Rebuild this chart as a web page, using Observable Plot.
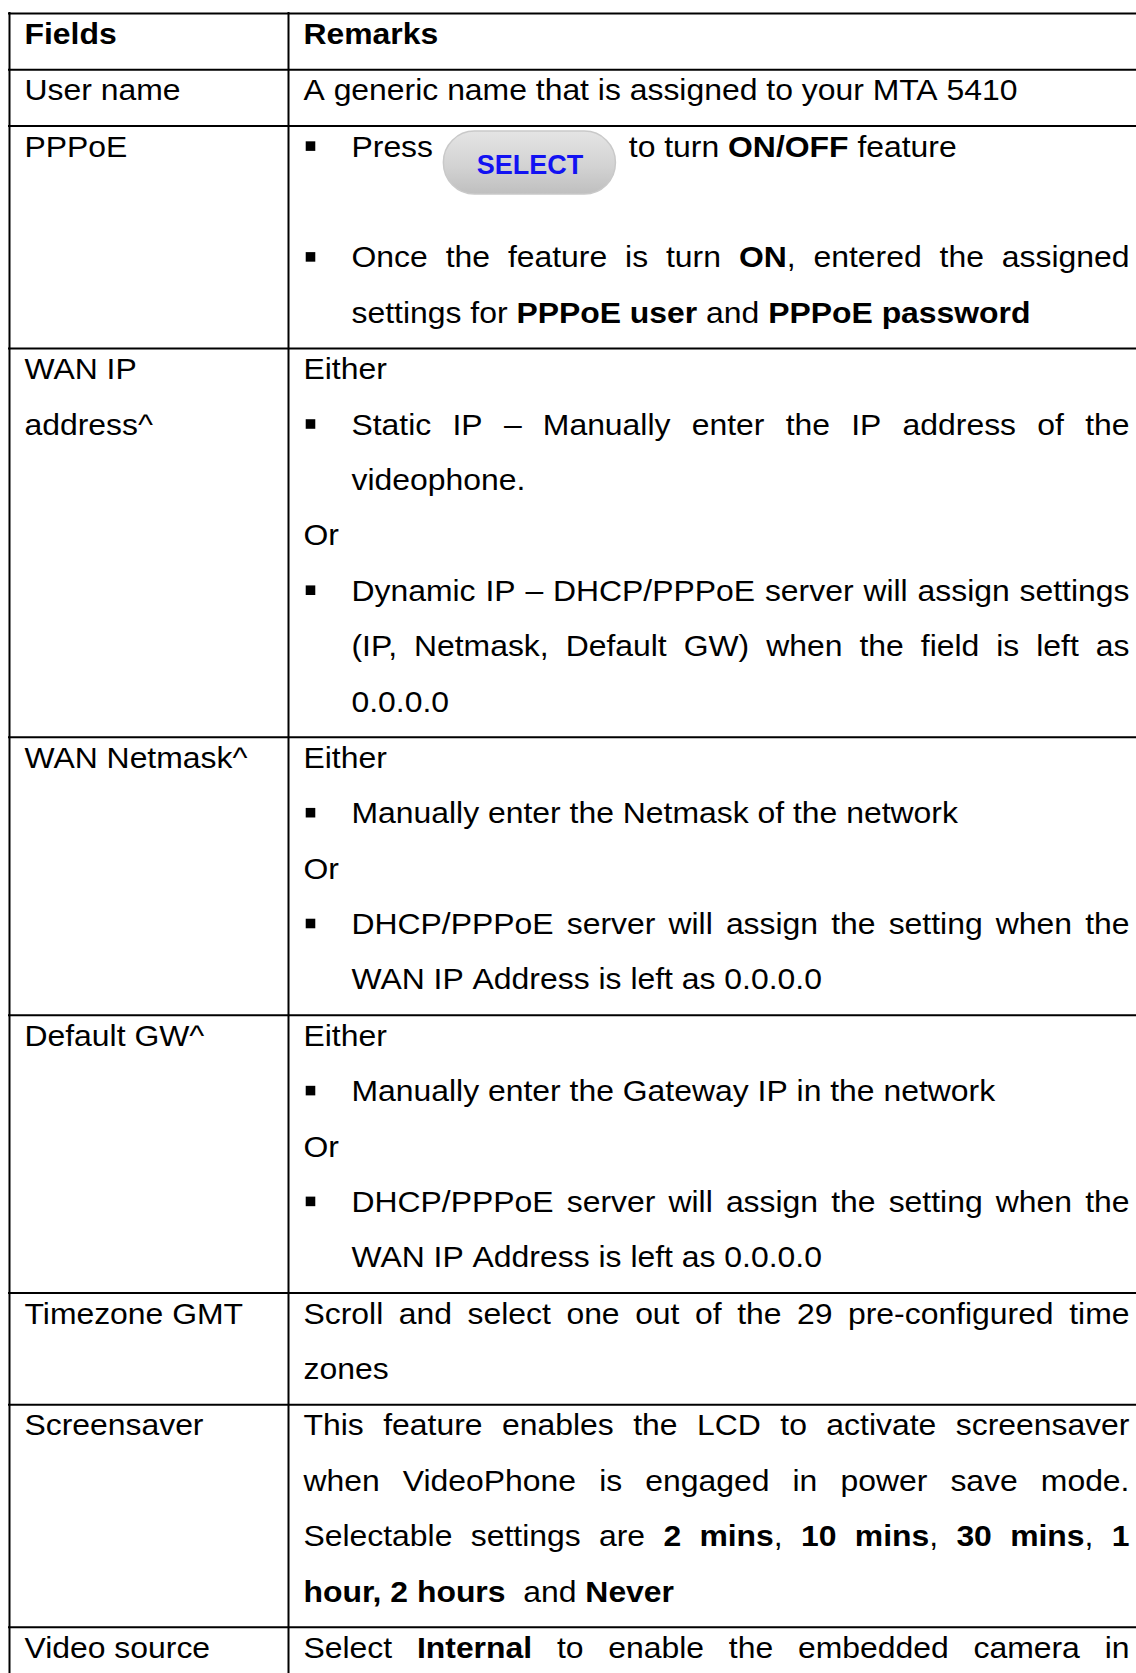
<!DOCTYPE html>
<html>
<head>
<meta charset="utf-8">
<script src="https://cdn.jsdelivr.net/npm/d3@7"></script>
<script src="https://cdn.jsdelivr.net/npm/@observablehq/plot@0.6"></script>
<style>
  html, body { margin: 0; padding: 0; background: #fff; }
  svg { display: block; }
</style>
</head>
<body>
<div id="chart"></div>
<script>
// ---------- content ----------
const fieldNames = [
  ["**Fields**"],
  ["User name"],
  ["PPPoE"],
  ["WAN IP", "address^"],
  ["WAN Netmask^"],
  ["Default GW^"],
  ["Timezone GMT"],
  ["Screensaver"],
  ["Video source"]
];
const remarksHeader = ["**Remarks**"];
const remarksUserName = ["A generic name that is assigned to your MTA 5410"];
const remarksPPPoE = [
  "- Press {SELECT} to turn **ON/OFF** feature",
  "",
  "- Once the feature is turn **ON**, entered the assigned ~",
  "  settings for **PPPoE user** and **PPPoE password**"
];
const remarksWanIp = [
  "Either",
  "- Static IP – Manually enter the IP address of the ~",
  "  videophone.",
  "Or",
  "- Dynamic IP – DHCP/PPPoE server will assign settings ~",
  "  (IP, Netmask, Default GW) when the field is left as ~",
  "  0.0.0.0"
];
const remarksNetmask = [
  "Either",
  "- Manually enter the Netmask of the network",
  "Or",
  "- DHCP/PPPoE server will assign the setting when the ~",
  "  WAN IP Address is left as 0.0.0.0"
];
const remarksGateway = [
  "Either",
  "- Manually enter the Gateway IP in the network",
  "Or",
  "- DHCP/PPPoE server will assign the setting when the ~",
  "  WAN IP Address is left as 0.0.0.0"
];
const remarksTimezone = [
  "Scroll and select one out of the 29 pre-configured time ~",
  "zones"
];
const remarksScreensaver = [
  "This feature enables the LCD to activate screensaver ~",
  "when VideoPhone is engaged in power save mode. ~",
  "Selectable settings are **2 mins**, **10 mins**, **30 mins**, **1** ~",
  "**hour, 2 hours**  and **Never**"
];
const remarksVideo = [
  "Select **Internal** to enable the embedded camera in ~"
];
const buttonLabels = ["SELECT"];

const remarks = [remarksHeader, remarksUserName, remarksPPPoE, remarksWanIp, remarksNetmask,
                 remarksGateway, remarksTimezone, remarksScreensaver, remarksVideo];

// ---------- layout ----------
const W = 1136, H = 1673;
const TOP = 13, LEFT = 9, DIV = 288, RIGHT = 1129;
const LINE = 55.4, ROWPAD = 0.9, BASE = 30.5;
const FS = 29, SX = 1.1;
const FONT = "Liberation Sans";
const TEXT_L = 24, TEXT_R = 303, BULLET_X = 310, BULLET_TEXT = 351;
const BTN_W = 172, BTN_PRE = 2, BTN_POST = 4, BTN_UP = 25, BTN_DOWN = 38;
const BTN_COLOR = "#1212f2";

const ctx = document.createElement("canvas").getContext("2d");
function widthOf(t, bold) {
  ctx.font = `${bold ? "bold " : ""}${FS}px "${FONT}"`;
  return ctx.measureText(t).width * SX;
}
const spaceW = widthOf(" ", false);

function tokenize(s) {
  const words = [];
  let cur = null, spaces = 0;
  s.split("**").forEach((p, i) => {
    const bold = i % 2 === 1;
    let buf = "";
    const flush = () => {
      if (buf) {
        if (!cur) { cur = {gap: spaces, pieces: []}; spaces = 0; }
        cur.pieces.push({t: buf, bold});
        buf = "";
      }
    };
    for (const ch of p) {
      if (ch === " ") { flush(); if (cur) { words.push(cur); cur = null; } spaces++; }
      else buf += ch;
    }
    flush();
  });
  if (cur) words.push(cur);
  return words;
}

const texts = [], bullets = [], buttons = [];

function layoutLine(str, x0col, y, canJustify) {
  let s = str, bullet = false, cont = false, justify = false;
  if (s.startsWith("- ")) { bullet = true; s = s.slice(2); }
  else if (s.startsWith("  ")) { cont = true; s = s.slice(2); }
  if (s.endsWith(" ~")) { justify = canJustify; s = s.slice(0, -2); }
  const words = tokenize(s);
  if (!words.length) return;
  const x0 = (bullet || cont) ? BULLET_TEXT : x0col;
  if (bullet) bullets.push({x: BULLET_X, y: y - 10.5});
  words.forEach(w => {
    w.width = 0;
    w.pieces.forEach(p => {
      const m = p.t.match(/^\{(.+)\}$/);
      if (m) { p.button = m[1]; p.w = BTN_PRE + BTN_W + BTN_POST; }
      else p.w = widthOf(p.t, p.bold);
      w.width += p.w;
    });
  });
  let natural = 0;
  words.forEach((w, i) => { natural += w.width + (i ? w.gap * spaceW : 0); });
  const extra = (justify && words.length > 1) ? (RIGHT - x0 - natural) / (words.length - 1) : 0;
  let x = x0;
  words.forEach((w, i) => {
    if (i) x += w.gap * spaceW + extra;
    w.pieces.forEach(p => {
      if (p.button) {
        const bx = x + BTN_PRE;
        buttons.push({x1: bx, x2: bx + BTN_W, y1: y - BTN_UP, y2: y + BTN_DOWN,
                      cx: bx + BTN_W / 2, ly: y + 17, label: p.button});
      } else {
        texts.push({x, y, t: p.t, bold: p.bold});
      }
      x += p.w;
    });
  });
}

// row tops (horizontal borders)
const tops = [TOP];
remarks.forEach((r, i) => {
  if (i < remarks.length - 1) tops.push(tops[i] + r.length * LINE + ROWPAD);
});

remarks.forEach((lines, i) => {
  lines.forEach((ln, k) => layoutLine(ln, TEXT_R, tops[i] + BASE + k * LINE, true));
  fieldNames[i].forEach((ln, k) => layoutLine(ln, TEXT_L, tops[i] + BASE + k * LINE, false));
});

const hRules = tops.map(y => ({y, x1: LEFT - 1, x2: W}));
const vRules = [LEFT, DIV].map(x => ({x, y1: TOP - 1, y2: H}));

const textOpts = {x: "x", y: "y", text: "t", textAnchor: "start", lineAnchor: "bottom",
                  fontSize: FS, fontFamily: FONT, fill: "#000"};

const chart = Plot.plot({
  width: W,
  height: H,
  margin: 0,
  x: {domain: [0, W], range: [0, W], axis: null},
  y: {domain: [0, H], range: [0, H], axis: null},
  style: {background: "#fff"},
  marks: [
    Plot.rect(buttons, {x1: "x1", x2: "x2", y1: "y1", y2: "y2", rx: 31,
                        fill: "url(#btnGrad)", stroke: "#c9c9c9", strokeWidth: 1.5}),
    Plot.text(buttons, {x: "cx", y: "ly", text: "label", textAnchor: "middle", lineAnchor: "bottom",
                        fontSize: 27, fontWeight: "bold", fontFamily: FONT, fill: BTN_COLOR}),
    Plot.text(texts.filter(d => !d.bold), textOpts),
    Plot.text(texts.filter(d => d.bold), {...textOpts, fontWeight: "bold"}),
    Plot.dot(bullets, {x: "x", y: "y", symbol: "square", r: 5.4, fill: "#000"}),
    Plot.ruleY(hRules, {y: "y", x1: "x1", x2: "x2", stroke: "#000", strokeWidth: 2}),
    Plot.ruleX(vRules, {x: "x", y1: "y1", y2: "y2", stroke: "#000", strokeWidth: 2})
  ]
});

// gradient for the button
d3.select(chart).insert("defs", ":first-child").html(
  `<linearGradient id="btnGrad" x1="0" y1="0" x2="0" y2="1">
     <stop offset="0" stop-color="#e4e4e4"/>
     <stop offset="0.55" stop-color="#d3d3d3"/>
     <stop offset="1" stop-color="#bfbfbf"/>
   </linearGradient>`);
chart.querySelectorAll("rect").forEach(r => { if (r.getAttribute("fill") === "url(#btnGrad)" || r.closest("g[fill='url(#btnGrad)']")) { r.setAttribute("rx", 31); r.setAttribute("ry", 31); } });

// the source text is set slightly wide: stretch body text horizontally about its anchor
chart.querySelectorAll("text").forEach(t => {
  const g = t.closest("g");
  if (g && g.getAttribute("fill") === BTN_COLOR) return;
  const tr = t.getAttribute("transform");
  if (tr) t.setAttribute("transform", `${tr} scale(${SX},1)`);
  else {
    const x = +(t.getAttribute("x") || 0);
    t.removeAttribute("x");
    t.setAttribute("transform", `translate(${x},0) scale(${SX},1)`);
  }
});

document.getElementById("chart").appendChild(chart);
</script>
</body>
</html>
